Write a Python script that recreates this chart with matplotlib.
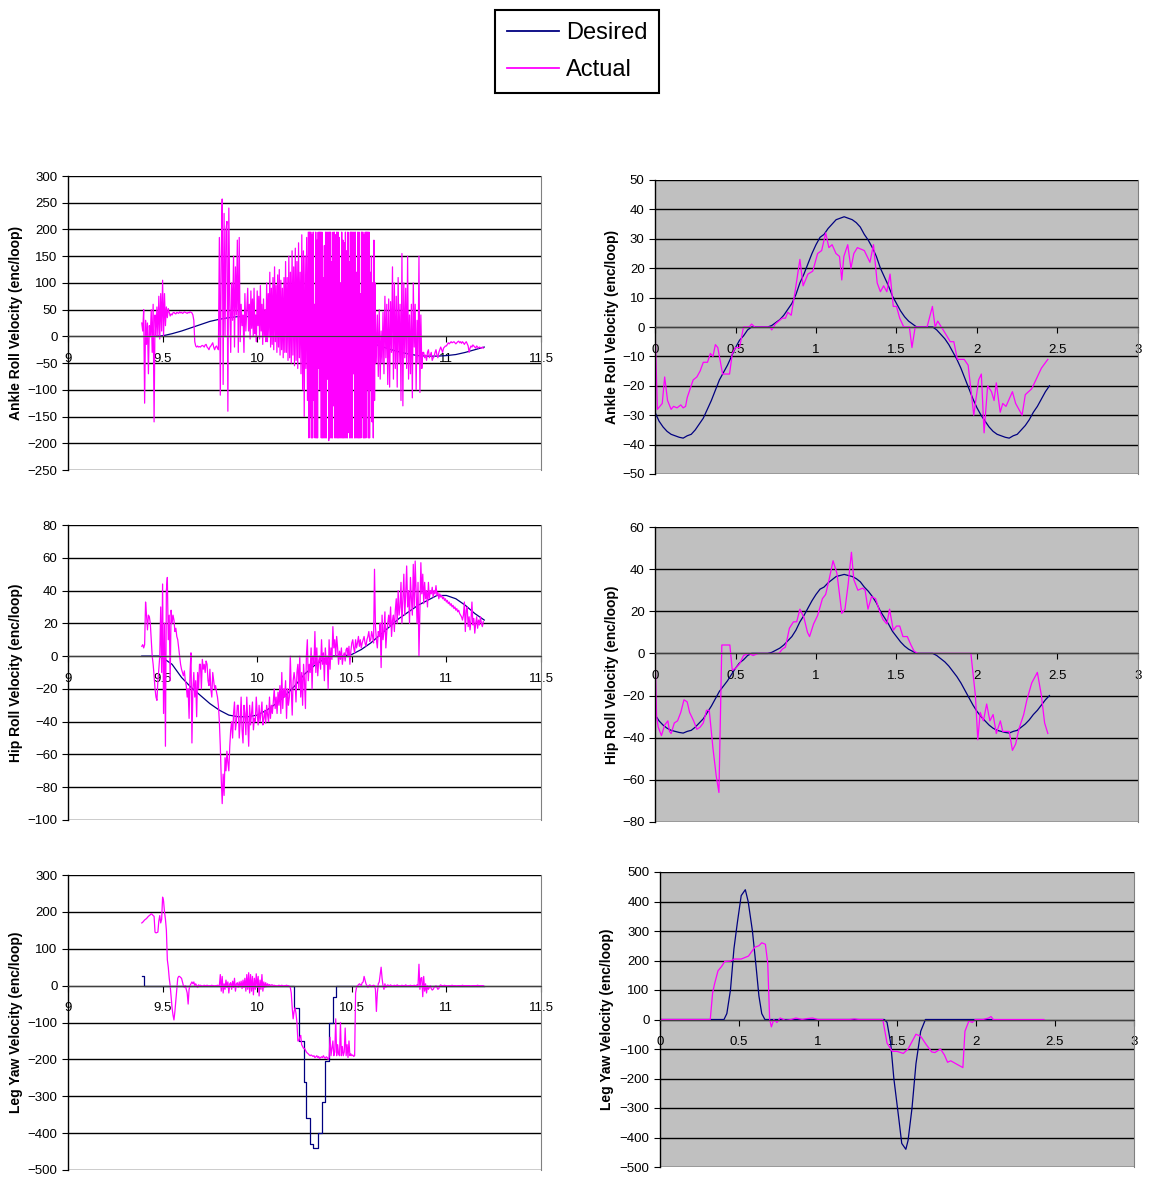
import numpy as np
import matplotlib
matplotlib.use("Agg")
import matplotlib.pyplot as plt
from matplotlib.ticker import MultipleLocator, FuncFormatter
from matplotlib.lines import Line2D

plt.rcParams["font.family"] = ["Liberation Sans", "DejaVu Sans"]

DESIRED = "#000080"
ACTUAL = "#FF00FF"

# ---------------- left column: recorded run (time in s) ----------------
ankle_des_t = [9.45, 11.2]
ankle_des_v = [0, 1, 5, 10, 16, 22, 28, 32, 35, 37, 37, 35, 32, 27, 21, 15, 9, 4,
               1, 0, 0, -2, -6, -12, -18, -24, -29, -33, -36, -37, -37, -36, -34,
               -30, -25, -20]

ankle_act_segs = [
    (9.39, 9.47, [25, 10, 50, -125, 30, -15, 25, -70, 20, 0, 50, -30, 60, -160, 40, 0]),
    (9.47, 9.53, [55, 0, 75, -5, 80, 10, 105, 0, 80, 20, 55, 35]),
    (9.53, 9.67, [52, 45, 38, 42, 40, 44, 45, 43, 42, 45, 44, 43, 46, 44, 45, 43, 44,
                  46, 45, 44, 43, 45, 44, 46, 45, 44, 40, 30]),
    (9.67, 9.80, [-10, -18, -20, -18, -20, -19, -20, -18, -17, -18, -20, -16, -15, -20,
                  -22, -25, -20, -18, -15, -12, -20, -25, -20, -18, -22, -25]),
    (9.80, 9.95, [185, -110, 150, 257, -90, 230, 0, 200, 215, -140, 240, 60, -30, 100,
                  30, 150, -20, 130, 40, 180, -30, 185, -10, 60, 20, 40, -30, 80, 10, 50]),
    (9.95, 10.05, [90, 10, 60, -5, 85, 15, 70, 0, 90, 5, 40, -10, 85, 20, 75, -5, 95,
                   10, 60, -15, 70, 0, 50, -10]),
    (10.05, 10.15, [100, -10, 80, 0, 120, -20, 90, -15, 110, -25, 130, -10, 95, -30,
                    115, -20, 125, -35, 105, -25, 90, -40, 110, -30]),
    (10.15, 10.27, [140, -30, 110, -45, 150, -40, 120, -50, 160, -35, 130, -55, 165, -45,
                    140, -60, 175, -40, 120, -70, 190, -100, 160, -150, 150, -60, 185,
                    -120]),
    (10.27, 10.63, [195, -190, 195, -150, 195, -190, 190, -190, 195, -120,
                    60, -190, 195, -190, 180, -190, 195, -60, 195, -100,
                    195, -190, 195, -190, 110, -190, 170, -190, 195, -190,
                    195, -80, 195, -195, 195, -190, 195, -190, 140, -190,
                    195, -130, 195, -190, 190, -190, 195, -190, 195, -190,
                    185, -190, 100, -190, 195, -190, 180, -190, 175, -190,
                    195, -190, 160, -190, 195, -180, 140, -190, 195, -190,
                    195, -190, 195, -70, 195, -190, 195, -190, 120, -190,
                    195, -190, 195, -190, 80, -190, 195, -150, 195, -190,
                    190, -190, 195, -190, 195, -100, 195, -190, 195, -190,
                    120, -100, 150, -160, 100, -190, 180, -120, 100, -50]),
    (10.63, 10.88, [-20, 40, -75, 50, -80, 10, -50, 45, -70, 75, -40, 60, -90, 70, -95,
                    65, -30, 130, -80, 100, -60, 75, -95, 110, -50, 60, -120, 155, -130,
                    100, -40, 90, -60, 150, -80, 40, -70, 60, -115, 100, -20, 60, -100,
                    30, -50, 150, -105, 40, -60, -30]),
    (10.88, 11.00, [-30, -40, -35, -45, -30, -25, -40, -35, -30, -45, -40, -38, -30, -25,
                    -35, -40, -30, -25, -20, -25, -30, -22, -20, -18]),
    (11.00, 11.20, [-18, -15, -12, -14, -12, -10, -12, -11, -10, -12, -14, -12, -10, -9,
                    -12, -10, -13, -10, -12, -15, -12, -10, -14, -18, -30, -22, -18, -20,
                    -16, -18, -20, -22, -18, -20, -22, -20, -21, -22, -20, -22]),
]

hip_des_t = [9.39, 9.45, 9.48, 9.50, 9.55, 9.60, 9.65, 9.70, 9.75, 9.80, 9.85, 9.90,
             9.95, 10.00, 10.05, 10.10, 10.15, 10.20, 10.25, 10.30, 10.35, 10.40, 10.45,
             10.50, 10.55, 10.60, 10.65, 10.70, 10.75, 10.80, 10.85, 10.90, 10.95, 11.00,
             11.05, 11.10, 11.15, 11.20]
hip_des_v = [0, 0, 0, -1, -5, -13, -19, -24, -29, -33, -36, -37, -37, -36, -33, -29,
             -24, -18, -11, -6, -2, 0, 0, 1, 4, 8, 13, 18, 23, 27, 31, 34, 37, 37, 35,
             31, 26, 22]

hip_act_segs = [
    (9.39, 9.41, [6, 7, 5, 7]),
    (9.41, 9.45, [33, 25, 16, 25, 24, 20, 10, 0]),
    (9.45, 9.49, [-5, -12, -20, -25, -27, -15, -8, 0]),
    (9.49, 9.535, [30, -10, 44, -35, 20, -55, 40, 48, 10]),
    (9.535, 9.60, [25, -15, 28, 20, 25, 22, 15, 17, 12, 10, 5, 0, -5]),
    (9.60, 9.70, [-8, -10, -12, -9, -15, -18, -25, -20, -38, -10, 2, -53, -20, -10, -25,
                  -15, -37, -10, -20, -5]),
    (9.70, 9.80, [-5, -20, -2, -8, -5, -10, -3, -5, -15, -18, -8, -20, -25, -10, -15,
                  -20, -18, -22, -25, -30]),
    (9.80, 9.85, [-40, -55, -75, -90, -72, -85, -62, -70, -58, -65]),
    (9.85, 9.90, [-70, -55, -45, -40, -50, -35, -28, -45, -40, -30]),
    (9.90, 10.20, [-30, -50, -40, -25, -45, -53, -30, -35, -48, -25, -40, -55, -30, -42,
                   -35, -28, -45, -38, -40, -25, -35, -42, -30, -40, -35, -28, -42, -38,
                   -33, -41, -30, -36, -40, -25, -38, -30, -35, -28, -20, -32, -25, -35,
                   -22, -30, -18, -35, -10, -32, -20, -25, -15, -38, -20, -30, -25, 0,
                   -20, -36, -15, -10]),
    (10.20, 10.40, [-15, -28, -10, -5, -20, 0, -25, -10, -30, -5, -15, -32, 0, 10, -15,
                    -5, -10, 5, -20, 0, -5, 15, -10, 5, -12, -3, 0, -8, 10, -5, 2, -15, 5,
                    -5, 0, -20, 10, -8, 5, -2]),
    (10.40, 10.60, [18, 5, 10, 0, 12, 5, -5, 3, -2, 5, -5, 0, 2, -3, 4, 5, 0, 6, -5, 3,
                    8, 10, 5, 2, 10, 5, 8, 12, 6, 10, 5, 8, 10, 12, 8, 6, 10, 12, 15, 9]),
    (10.60, 10.65, [10, 15, 12, 8, 53, 18, 10, 5, 15, 12]),
    (10.65, 10.90, [20, -7, 25, 10, 15, 27, 5, 15, 20, 25, 18, 30, 12, 22, 25, 15, 28,
                    35, 20, 40, 25, 30, 45, 20, 35, 50, 25, 38, 55, 30, 40, 20, 48, 35,
                    25, 56, 30, 58, 40, 20, 45, 0, 30, 57, 38, 50, 32, 45, 35, 40]),
    (10.90, 11.20, [30, 45, 35, 40, 38, 42, 36, 40, 38, 43, 37, 39, 35, 38, 36, 37, 35,
                    36, 34, 35, 33, 34, 32, 33, 31, 32, 30, 31, 29, 30, 28, 29, 27, 28,
                    26, 25, 24, 22, 25, 33, 15, 28, 30, 18, 24, 16, 22, 33, 19, 23, 14,
                    20, 24, 17, 22, 19, 24, 20, 18, 21]),
]

yaw_des_t = [9.39, 9.40, 10.197, 10.22, 10.245, 10.26, 10.28, 10.297, 10.32, 10.34,
             10.36, 10.38, 10.40, 10.418, 11.2]
yaw_des_v = [25, 0, -60, -150, -260, -360, -430, -440, -400, -315, -205, -100, -30, 0, 0]

yaw_act_segs = [
    (9.39, 9.46, [170, 172, 175, 178, 180, 182, 185, 188, 190, 192, 195, 193, 190, 188]),
    (9.46, 9.50, [145, 143, 144, 145, 175, 190, 170, 180]),
    (9.50, 9.52, [240, 230, 200, 180]),
    (9.52, 9.57, [150, 70, 50, 20, 0, -30, -60, -80, -93, -70]),
    (9.57, 9.60, [-40, -10, 20, 25, 25, 22]),
    (9.60, 9.66, [20, 10, 0, -5, 0, -10, -20, -50, -10, 0, 5, 10]),
    (9.66, 9.80, [5, 10, 0, 5, 0, -5, 2, 0, 1, 0, -2, 0, 1, 0, 0, 1, 0, -1, 0, 0, 1, 0,
                  0, -1, 0, 0, 1, 0]),
    (9.80, 10.08, [0, 30, -15, 25, -20, 5, -10, 15, -5, 10, -20, 5, 8, -10, 12, -5, 20,
                   -15, 5, 8, -5, 10, -3, 12, -8, 15, -5, 20, -15, 30, -10, 35, -20, 30,
                   -15, 25, -25, 20, -10, 32, -5, 25, -28, 15, -10, 30, -15, 10, -5, 8,
                   -3, 5, 0, 3, 0, 2]),
    (10.08, 10.18, [2, 0, 1, 0, 0, -2, 0, 1, 0, 0, 1, 0, -1, 0, 0, 1, 0, 0, -2, -5]),
    (10.18, 10.22, [-20, -60, -90, -70, -60, -75, -100, -150]),
    (10.22, 10.25, [-150, -140, -135, -160, -165, -170]),
    (10.25, 10.38, [-170, -175, -180, -183, -185, -188, -190, -188, -190, -192, -190,
                    -195, -193, -190, -195, -192, -198, -195, -193, -195, -190, -195,
                    -197, -193, -195, -200]),
    (10.38, 10.52, [-195, -140, -190, -170, -150, -190, -180, -90, -190, -160, -185,
                    -190, -100, -190, -165, -190, -180, -115, -190, -160, -195, -150,
                    -190, -185, -190, -188, -192, -190]),
    (10.52, 10.62, [-20, -5, 0, 2, 5, 3, 0, 8, 10, 25, 15, 5, 0, -5, 0, 2, 0, -3, 0, 1]),
    (10.62, 10.70, [0, -10, -70, -20, 5, 10, 30, 50, 20, 0, -10, 5, -5, 0, 2, 0]),
    (10.70, 10.85, [0, 2, 0, -1, 0, 1, 0, 0, 2, 0, 0, -1, 0, 1, 0, 0, 0, 2, 0, -1, 0, 0,
                    1, 0, 0, 0, 1, 0, 0, 2]),
    (10.85, 10.95, [0, 58, -10, 20, 22, -30, 25, -15, 5, -20, 0, -10, -5, 0, -8, -12,
                    -10, -5, -3, 0]),
    (10.95, 11.20, [-5, -10, -8, 0, 2, 0, 0, 0, 1, 0, 0, -1, 0, 0, 0, 0, 1, 0, 0, 0, 0,
                    -1, 0, 0, 0, 0, 0, 1, 0, 0, 0, 0, 0, 0, 0, 0, -1, 0, 0, 0, 0, 0, 0,
                    1, 0, 0, 0, 0, 0, 0]),
]

# ---------------- right column: one gait cycle (time in s) ----------------
roll_des_right_t = [0.0, 2.45]
roll_des_right_v = [-29, -32, -34, -35.5, -36.5, -37, -37.5, -37.8, -37, -36.5,
                    -35, -33, -31, -28, -25, -21.5, -18, -15.5, -13, -10,
                    -7, -4.5, -3, -1, 0, 0, 0, 0, 0, 0.5,
                    1.5, 2.5, 4, 6, 8, 11, 15, 18, 21.5, 25,
                    28, 30.5, 31.5, 33.5, 35, 36.5, 37, 37.5, 37, 36.5,
                    35.5, 34, 31.5, 29.5, 27, 24, 20, 17, 14, 10.5,
                    8, 5.5, 3.5, 2, 1, 0, 0, 0, 0, 0,
                    -1, -2.5, -4, -6, -8.5, -11, -14, -17.5, -21, -24.5,
                    -27.5, -30, -32, -34, -35.5, -36.5, -37, -37.5, -37.8, -37,
                    -36.5, -35, -33.5, -31.5, -29, -27, -24.5, -22, -20]

ankle_act_right_t = [0, 0.015, 0.03, 0.045, 0.06, 0.078, 0.1, 0.115, 0.137, 0.16,
                     0.175, 0.19, 0.2, 0.237, 0.26, 0.28, 0.3, 0.326, 0.344, 0.36,
                     0.375, 0.39, 0.42, 0.463, 0.48, 0.5, 0.525, 0.55, 0.585, 0.6,
                     0.62, 0.714, 0.725, 0.747, 0.79, 0.81, 0.825, 0.846, 0.87, 0.9,
                     0.92, 0.95, 0.98, 1.01, 1.035, 1.06, 1.08, 1.1, 1.124, 1.146,
                     1.16, 1.173, 1.197, 1.217, 1.235, 1.257, 1.3, 1.335, 1.357, 1.38,
                     1.4, 1.42, 1.44, 1.46, 1.48, 1.5, 1.52, 1.545, 1.58, 1.596,
                     1.616, 1.69, 1.723, 1.74, 1.756, 1.79, 1.834, 1.856, 1.878, 1.92,
                     1.945, 1.98, 2.01, 2.027, 2.044, 2.066, 2.09, 2.106, 2.12, 2.144,
                     2.16, 2.18, 2.22, 2.24, 2.28, 2.3, 2.34, 2.4, 2.44]
ankle_act_right_v = [0, -28, -27, -26, -17, -25, -28, -27, -27.5, -26.5,
                     -27.5, -27, -24, -18, -17, -15, -12, -12, -9, -10,
                     -6, -7, -16, -16, -9, -7, -7, 0, 0, 1,
                     0, 0, -1, 1, 3, 3, 5, 4, 12, 23,
                     14, 18, 19, 25, 26, 32, 27, 28, 25, 24,
                     16, 24, 28, 20, 25, 27, 26, 22, 28, 15,
                     12, 14, 12, 18, 7, 7, 3, 0, 0, -7,
                     0, 0, 7, 0, 2, -1, -5, -5, -11, -11,
                     -13, -30, -18, -16, -36, -20, -22, -25, -19, -29,
                     -26, -27, -22, -26, -30, -23, -21, -14, -11]

hip_act_right_t = [0, 0.01, 0.02, 0.04, 0.06, 0.08, 0.09, 0.10, 0.12, 0.14,
                   0.16, 0.18, 0.2, 0.215, 0.24, 0.26, 0.28, 0.30, 0.32, 0.337,
                   0.36, 0.38, 0.397, 0.415, 0.465, 0.48, 0.5, 0.525, 0.55, 0.58,
                   0.61, 0.64, 0.77, 0.79, 0.81, 0.835, 0.86, 0.88, 0.9, 0.925,
                   0.947, 0.96, 0.985, 1.01, 1.04, 1.06, 1.084, 1.106, 1.13, 1.146,
                   1.16, 1.18, 1.2, 1.22, 1.235, 1.26, 1.29, 1.305, 1.323, 1.345,
                   1.37, 1.395, 1.417, 1.44, 1.457, 1.48, 1.5, 1.52, 1.54, 1.567,
                   1.59, 1.61, 1.634, 1.962, 1.99, 2.005, 2.02, 2.04, 2.06, 2.08,
                   2.1, 2.12, 2.145, 2.16, 2.18, 2.2, 2.22, 2.24, 2.26, 2.29,
                   2.31, 2.34, 2.375, 2.4, 2.42, 2.44]
hip_act_right_v = [0, -30, -35, -39, -34, -32, -37, -38, -33, -32,
                   -28, -22, -23, -28, -32, -36, -35, -33, -27, -27,
                   -45, -58, -66, 4, 4, -8, -7, -5, -1, 0,
                   -1, 0, 0, 2, 3, 12, 15, 15, 21, 17,
                   10, 8, 14, 18, 26, 28, 36, 44, 38, 28,
                   19, 21, 33, 48, 35, 30, 31, 30, 21, 27,
                   26, 20, 16, 14, 21, 11, 13, 13, 8, 8,
                   4, 1, 0, 0, -20, -41, -28, -32, -24, -32,
                   -29, -38, -32, -37, -37, -37, -46, -43, -36, -29,
                   -22, -14, -9, -20, -33, -38]

yaw_des_right_t = [0, 0.405, 0.423, 0.446, 0.468, 0.49, 0.514, 0.54, 0.558, 0.585,
                   0.608, 0.626, 0.644, 0.664, 1.42, 1.437, 1.46, 1.48, 1.51, 1.53,
                   1.556, 1.57, 1.595, 1.62, 1.65, 1.68, 2.1]
yaw_des_right_v = [0, 0, 20, 100, 240, 330, 420, 440, 400, 300,
                   180, 80, 20, 0, 0, -10, -80, -200, -330, -420,
                   -440, -410, -300, -150, -40, 0, 0]

yaw_act_right_t = [0, 0.318, 0.333, 0.345, 0.367, 0.39, 0.41, 0.446, 0.47, 0.514,
                   0.56, 0.6, 0.626, 0.644, 0.667, 0.682, 0.694, 0.705, 0.72, 0.74,
                   0.76, 0.795, 0.83, 0.86, 0.9, 0.93, 0.965, 1.0, 1.2, 1.23,
                   1.26, 1.41, 1.437, 1.47, 1.5, 1.54, 1.57, 1.6, 1.62, 1.65,
                   1.685, 1.72, 1.74, 1.775, 1.8, 1.82, 1.84, 1.89, 1.917, 1.93,
                   1.955, 1.977, 1.995, 2.045, 2.08, 2.095, 2.11, 2.43]
yaw_act_right_v = [0, 0, 90, 120, 165, 180, 197, 198, 205, 205,
                   215, 245, 250, 260, 255, 190, 0, -25, 0, -10,
                   5, -3, 0, 5, 0, 3, 5, 0, 0, 2,
                   0, 0, -80, -108, -108, -115, -100, -70, -50, -57,
                   -85, -110, -112, -100, -120, -145, -140, -155, -163, -40,
                   -5, -10, 0, 0, 5, 10, 0, 0]


def from_segments(segs):
    t, v = [], []
    for t0, t1, vals in segs:
        t.extend(np.linspace(t0, t1, len(vals), endpoint=False))
        v.extend(vals)
    return np.array(t), np.array(v)


def even(span, vals):
    return np.linspace(span[0], span[1], len(vals)), np.array(vals)


def style(ax, xlim, ylim, ystep, label, face, labelx):
    ax.set_facecolor(face)
    ax.set_xlim(*xlim)
    ax.set_ylim(*ylim)
    ax.yaxis.set_major_locator(MultipleLocator(ystep))
    ax.xaxis.set_major_locator(MultipleLocator(0.5))
    ax.xaxis.set_major_formatter(FuncFormatter(lambda v, p: f"{v:g}"))
    ax.grid(axis="y", color="black", lw=1.0)
    ax.set_axisbelow(True)
    ax.spines["bottom"].set_position(("data", 0))
    ax.spines["bottom"].set_color("#404040")
    ax.spines["top"].set_visible(False)
    ax.spines["right"].set_color("#808080")
    ax.spines["left"].set_linewidth(1.0)
    ax.tick_params(direction="out", length=4, width=0.8, labelsize=9.5)
    ax.tick_params(axis="x", pad=8)
    ax.set_ylabel(label, fontsize=10, fontweight="bold")
    ax.yaxis.set_label_coords(labelx, 0.5)


fig = plt.figure(figsize=(11.52, 11.8), dpi=100)
W, H = 1152, 1180


def add_axes(x0, x1, y_top, y_bot):
    return fig.add_axes([x0 / W, 1 - y_bot / H, (x1 - x0) / W, (y_bot - y_top) / H])


kw_des = dict(color=DESIRED, lw=0.9)
kw_act = dict(color=ACTUAL, lw=0.9)

# top left
ax = add_axes(68, 541, 176, 470)
ax.plot(*even(ankle_des_t, ankle_des_v), **kw_des)
ax.plot(*from_segments(ankle_act_segs), **kw_act)
style(ax, (9, 11.5), (-250, 300), 50, "Ankle Roll Velocity (enc/loop)", "white", -0.095)

# top right
ax = add_axes(655, 1138, 180, 474)
ax.plot(*even(roll_des_right_t, roll_des_right_v), **kw_des)
ax.plot(ankle_act_right_t, ankle_act_right_v, **kw_act)
style(ax, (0, 3), (-50, 50), 10, "Ankle Roll Velocity (enc/loop)", "#C0C0C0", -0.075)

# middle left
ax = add_axes(68, 541, 525, 820)
ax.plot(hip_des_t, hip_des_v, **kw_des)
ax.plot(*from_segments(hip_act_segs), **kw_act)
style(ax, (9, 11.5), (-100, 80), 20, "Hip Roll Velocity (enc/loop)", "white", -0.095)

# middle right
ax = add_axes(655, 1138, 527, 822)
ax.plot(*even(roll_des_right_t, roll_des_right_v), **kw_des)
ax.plot(hip_act_right_t, hip_act_right_v, **kw_act)
style(ax, (0, 3), (-80, 60), 20, "Hip Roll Velocity (enc/loop)", "#C0C0C0", -0.075)

# bottom left
ax = add_axes(68, 541, 875, 1170)
ax.plot(yaw_des_t, yaw_des_v, drawstyle="steps-post", **kw_des)
ax.plot(*from_segments(yaw_act_segs), **kw_act)
style(ax, (9, 11.5), (-500, 300), 100, "Leg Yaw Velocity (enc/loop)", "white", -0.095)

# bottom right
ax = add_axes(660, 1134, 872, 1167)
ax.plot(yaw_des_right_t, yaw_des_right_v, **kw_des)
ax.plot(yaw_act_right_t, yaw_act_right_v, **kw_act)
style(ax, (0, 3), (-500, 500), 100, "Leg Yaw Velocity (enc/loop)", "#C0C0C0", -0.097)

handles = [Line2D([], [], color=DESIRED, lw=1.3), Line2D([], [], color=ACTUAL, lw=1.3)]
leg = fig.legend(handles, ["Desired", "Actual"], loc="center",
                 bbox_to_anchor=(577 / W, 1 - 51.5 / H), fontsize=17, frameon=True,
                 fancybox=False, edgecolor="black", framealpha=1, handlelength=2.2,
                 borderpad=0.5, labelspacing=0.65, handletextpad=0.3,
                 borderaxespad=0)
leg.get_frame().set_linewidth(1.5)

fig.savefig("out.png", dpi=100)
plt.close(fig)
